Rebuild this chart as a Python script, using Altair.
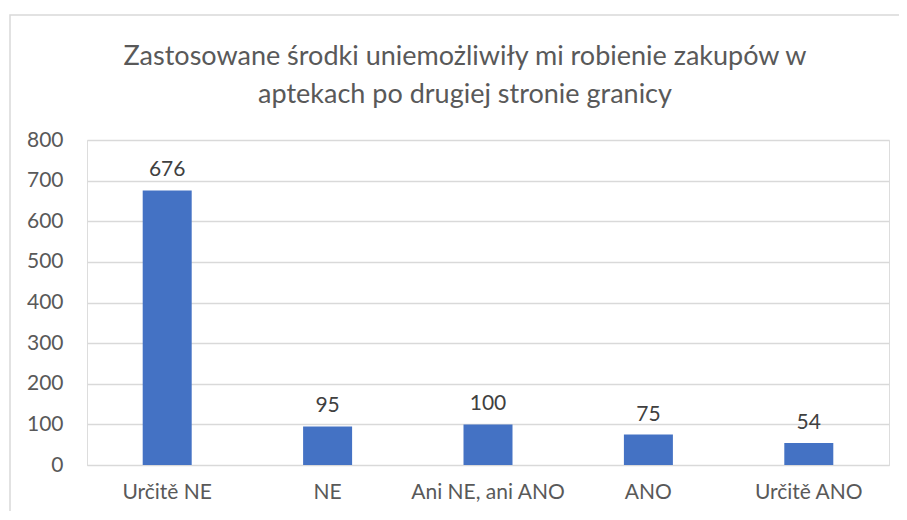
import altair as alt
import pandas as pd

categories = ["Určitě NE", "NE", "Ani NE, ani ANO", "ANO", "Určitě ANO"]
values = [676, 95, 100, 75, 54]
title_lines = ["Zastosowane środki uniemożliwiły mi robienie zakupów w",
               "aptekach po drugiej stronie granicy"]

df = pd.DataFrame({"cat": categories, "val": values})

FONT = "Lato"
GREY = "#595959"

base = alt.Chart(df)

frame = alt.Chart(pd.DataFrame({"a": [0]})).mark_rect(
    fill=None, stroke="#d9d9d9", strokeWidth=1.5
).encode(
    x=alt.value(-77), x2=alt.value(900), y=alt.value(-125), y2=alt.value(400)
)

title1 = alt.Chart(pd.DataFrame({"t": [title_lines[0]]})).mark_text(
    font=FONT, fontSize=27, color=GREY, baseline="middle", align="center"
).encode(x=alt.value(378), y=alt.value(-83), text="t:N")
title2 = alt.Chart(pd.DataFrame({"t": [title_lines[1]]})).mark_text(
    font=FONT, fontSize=27, color=GREY, baseline="middle", align="center"
).encode(x=alt.value(378), y=alt.value(-45), text="t:N")

bars = base.mark_bar(color="#4472C4", size=49).encode(
    x=alt.X("cat:N", sort=categories, title=None,
            axis=alt.Axis(labelAngle=0, labelFont=FONT, labelFontSize=21,
                          labelColor=GREY, labelPadding=16, ticks=False,
                          domain=True, domainColor="#d9d9d9", grid=False)),
    y=alt.Y("val:Q", title=None, scale=alt.Scale(domain=[0, 800]),
            axis=alt.Axis(values=list(range(0, 801, 100)), labelFont=FONT,
                          labelFontSize=21, labelColor=GREY, labelPadding=24,
                          ticks=False, domain=False, gridColor="#d9d9d9",
                          gridWidth=1.3)),
)

labels = base.mark_text(font=FONT, fontSize=21, color="#404040",
                        baseline="bottom", dy=-10).encode(
    x=alt.X("cat:N", sort=categories),
    y=alt.Y("val:Q"),
    text=alt.Text("val:Q"),
)

chart = alt.layer(frame, bars, labels, title1, title2).properties(
    width=802, height=325,
    padding={"left": 79, "top": 132, "right": 10, "bottom": 46},
    autosize=alt.AutoSizeParams(type="none"),
).configure_view(stroke=None).configure(background="white")

chart.save("out.html", embed_options={"renderer": "svg", "actions": False})
